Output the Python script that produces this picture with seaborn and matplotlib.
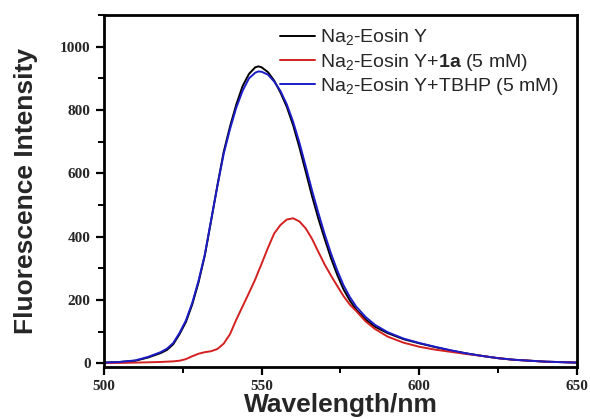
import matplotlib
matplotlib.use("Agg")
import matplotlib.pyplot as plt
from matplotlib.ticker import MultipleLocator
import pandas as pd
import seaborn as sns

# %%% Données lues sur la figure %%%
wavelength = [500, 505, 510, 514, 518, 520, 522, 524, 526, 528, 530, 532, 534, 536,
              538, 540, 542, 544, 546, 548, 549, 550, 552, 554, 556, 558, 560, 562,
              564, 566, 568, 570, 572, 574, 576, 578, 580, 583, 586, 590, 595, 600,
              605, 610, 615, 620, 625, 630, 640, 650]

eosin_y = [2, 4, 8, 18, 32, 42, 60, 92, 130, 185, 255, 340, 450, 562,
           668, 748, 818, 876, 914, 935, 938, 935, 920, 893, 855, 810, 752, 682,
           605, 528, 457, 393, 332, 279, 233, 198, 169, 138, 115, 95, 76, 63,
           51, 40, 31, 23, 16, 11, 5, 2]

eosin_y_1a = [1, 1, 2, 3, 4, 5, 6, 8, 13, 22, 30, 35, 38, 45,
              62, 92, 138, 180, 222, 265, 290, 314, 364, 410, 437, 454, 458, 448,
              426, 393, 352, 312, 277, 244, 212, 185, 165, 132, 108, 84, 65, 52,
              43, 36, 29, 23, 16, 11, 5, 2]

eosin_y_tbhp = [2, 4, 9, 20, 35, 46, 64, 96, 135, 190, 260, 343, 452, 560,
                662, 740, 808, 861, 900, 918, 922, 921, 912, 890, 860, 818, 763, 697,
                622, 546, 475, 408, 347, 293, 246, 209, 179, 146, 121, 98, 78, 64,
                52, 41, 31, 23, 16, 11, 5, 2]

labels = ["Na$_{2}$-Eosin Y",
          "Na$_{2}$-Eosin Y+$\\mathbf{1a}$ (5 mM)",
          "Na$_{2}$-Eosin Y+TBHP (5 mM)"]
colors = ["black", "#d42020", "#1c1cc8"]

df = pd.DataFrame({"wl": wavelength, "s0": eosin_y, "s1": eosin_y_1a, "s2": eosin_y_tbhp})

# %%% Style %%%
sns.set_theme(style="ticks")
plt.rcParams["font.family"] = ["Liberation Sans", "DejaVu Sans"]
plt.rcParams["mathtext.fontset"] = "custom"
plt.rcParams["mathtext.rm"] = "Liberation Sans"
plt.rcParams["mathtext.bf"] = "Liberation Sans:bold"

fig = plt.figure(figsize=(5.9, 4.19), dpi=100)
ax = fig.add_axes([0.176, 0.124, 0.802, 0.840])

for col, lab, c in zip(["s0", "s1", "s2"], labels, colors):
    sns.lineplot(data=df, x="wl", y=col, ax=ax, color=c, linewidth=1.4, label=lab)

ax.set_xlim(500, 650)
ax.set_ylim(-12, 1100)
ax.xaxis.set_major_locator(MultipleLocator(50))
ax.xaxis.set_minor_locator(MultipleLocator(25))
ax.yaxis.set_major_locator(MultipleLocator(200))
ax.yaxis.set_minor_locator(MultipleLocator(100))

for s in ax.spines.values():
    s.set_visible(True)
    s.set_linewidth(2)
    s.set_color("black")

ax.tick_params(which="major", length=6, width=1.6, direction="out", color="black")
ax.tick_params(which="minor", length=4, width=1.4, direction="out", color="black")
for t in ax.get_xticklabels() + ax.get_yticklabels():
    t.set_fontfamily("Liberation Serif")
    t.set_fontweight("bold")
    t.set_fontsize(11)

ax.set_xlabel("Wavelength/nm", fontsize=19, fontweight="bold", labelpad=-0.5)
ax.set_ylabel("Fluorescence Intensity", fontsize=19, fontweight="bold", labelpad=16)

ax.legend(loc="upper left", bbox_to_anchor=(0.345, 1.0), frameon=False, fontsize=14,
          handlelength=1.8, handletextpad=0.26, labelspacing=0.18, borderaxespad=0.25)

fig.savefig("out.png", dpi=100)
